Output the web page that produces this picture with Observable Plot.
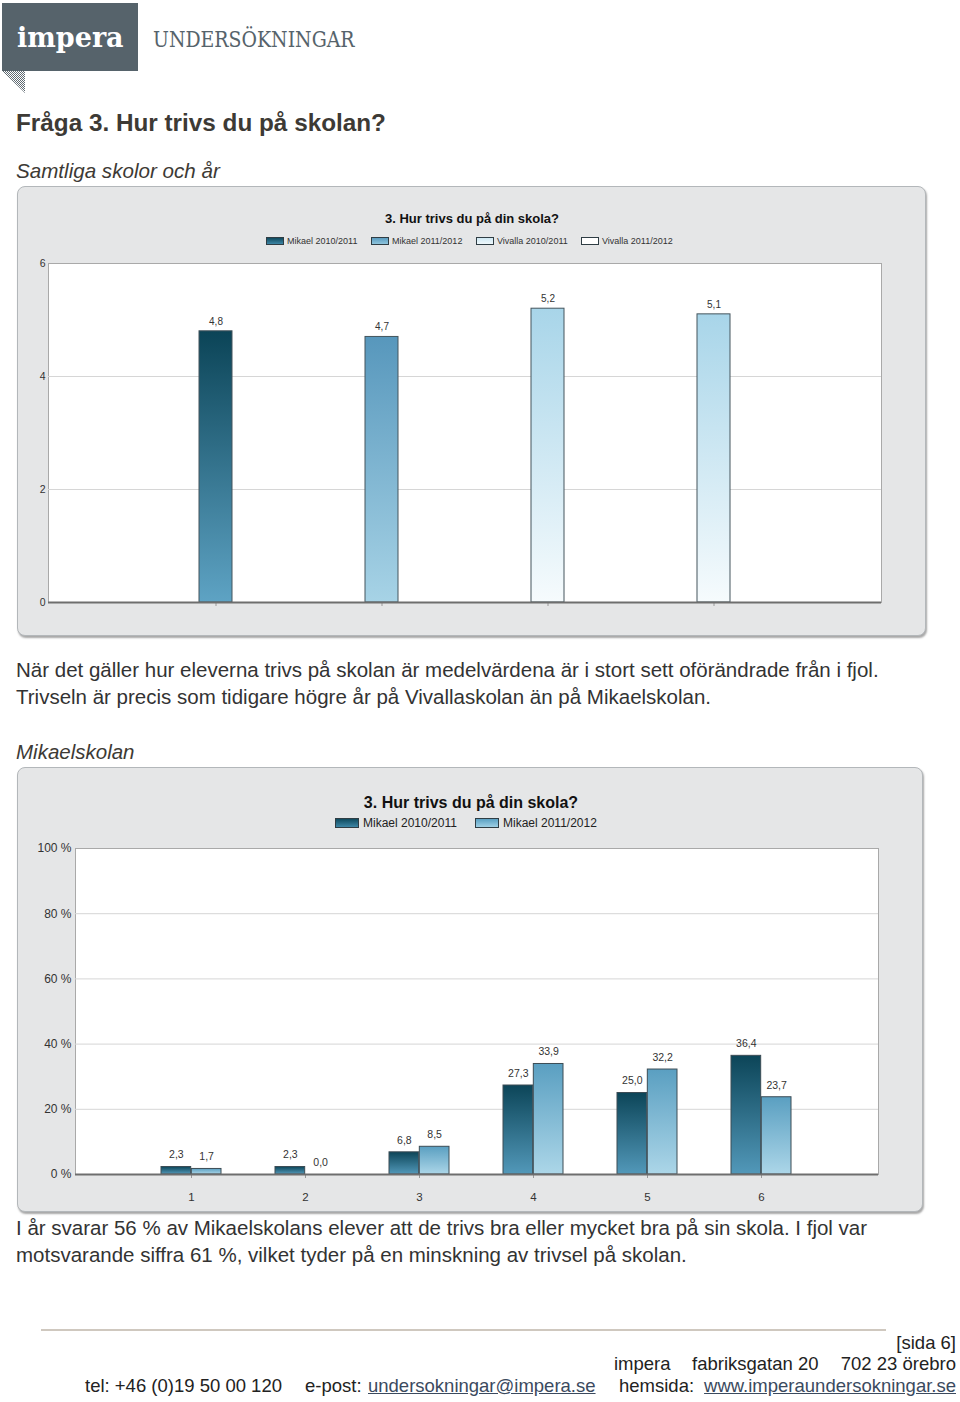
<!DOCTYPE html>
<html><head><meta charset="utf-8">
<script src="https://cdn.jsdelivr.net/npm/d3@7"></script>
<script src="https://cdn.jsdelivr.net/npm/@observablehq/plot@0.6"></script>
<style>
html,body{margin:0;padding:0;background:#fff;}
#page{position:relative;width:960px;height:1402px;overflow:hidden;font-family:"Liberation Sans",Arial,sans-serif;color:#333;}
.t{position:absolute;white-space:pre;line-height:normal;}
.panel{position:absolute;box-sizing:border-box;background:#e5e6e7;border:1px solid #b3b7ba;border-radius:8px;box-shadow:1px 2px 2px rgba(0,0,0,0.35);}
.sw{position:absolute;box-sizing:border-box;border:1px solid #2f3d44;}
.abs{position:absolute;}
</style></head>
<body><div id="page"></div>
<script>
// ---------- data ----------
const series1 = ["Mikael 2010/2011", "Mikael 2011/2012", "Vivalla 2010/2011", "Vivalla 2011/2012"];
const means1 = [4.8, 4.7, 5.2, 5.1];
const yTicks1 = [0, 2, 4, 6];

const answers2 = ["1", "2", "3", "4", "5", "6"];
const series2 = ["Mikael 2010/2011", "Mikael 2011/2012"];
const mikael1011 = [2.3, 2.3, 6.8, 27.3, 25.0, 36.4];
const mikael1112 = [1.7, 0.0, 8.5, 33.9, 32.2, 23.7];
const yTicks2 = [0, 20, 40, 60, 80, 100];

// ---------- styles ----------
const grad1 = [["#0b4457", "#5ea3c4"], ["#5797bc", "#a7d3e6"], ["#a8d5e9", "#f6fbfd"], ["#a8d5e9", "#f6fbfd"]];
const legend1Css = ["linear-gradient(#0f4a5e,#3d86a6)", "linear-gradient(#5a9cc0,#8fc4dc)", "linear-gradient(#cfe8f3,#eef7fb)", "#ffffff"];
const grad2 = [["#0c4558", "#5298b9"], ["#5a9fc1", "#acd6e8"]];
const legend2Css = ["linear-gradient(#0f4a5e,#3d86a6)", "linear-gradient(#5aa0c2,#9fd0e5)"];

const fmt = v => v.toFixed(1).replace(".", ",");
const page = document.getElementById("page");

function txt(s, x, base, fs, o = {}) {
  const d = document.createElement("div");
  d.className = "t";
  d.textContent = s;
  d.style.fontSize = fs + "px";
  const asc = o.asc ?? 0.921;
  d.style.top = (base - asc * fs) + "px";
  if (o.align === "right") d.style.right = (960 - x) + "px";
  else if (o.align === "center") { d.style.left = (x - 300) + "px"; d.style.width = "600px"; d.style.textAlign = "center"; }
  else d.style.left = x + "px";
  Object.assign(d.style, o.style || {});
  page.appendChild(d);
  return d;
}
function box(x, y, w, h, cls, css = {}) {
  const d = document.createElement("div");
  d.className = cls;
  Object.assign(d.style, {left: x + "px", top: y + "px", width: w + "px", height: h + "px"}, css);
  page.appendChild(d);
  return d;
}
function gradientDefs(prefix, list) {
  return () => {
    const ns = "http://www.w3.org/2000/svg";
    const defs = document.createElementNS(ns, "defs");
    list.forEach(([top, bottom], i) => {
      const lg = document.createElementNS(ns, "linearGradient");
      lg.setAttribute("id", prefix + i);
      lg.setAttribute("x1", "0"); lg.setAttribute("y1", "0");
      lg.setAttribute("x2", "0"); lg.setAttribute("y2", "1");
      [[0, top], [1, bottom]].forEach(([off, c]) => {
        const s = document.createElementNS(ns, "stop");
        s.setAttribute("offset", off); s.setAttribute("stop-color", c);
        lg.appendChild(s);
      });
      defs.appendChild(lg);
    });
    return defs;
  };
}

// ---------- header / logo ----------
box(2, 3, 136, 68, "abs", {background: "#56636b"});
box(2, 71, 23, 22, "abs", {clipPath: "polygon(0 0,100% 0,100% 100%)", background: "repeating-conic-gradient(#5f6a71 0 25%, #ffffff 0 50%) 0 0/2px 2px"});
txt("impera", 17, 47, 27, {asc: 0.928, style: {fontFamily: "'DejaVu Serif',serif", fontWeight: "bold", color: "#ffffff"}});
const und = txt("UNDERSÖKNINGAR", 153, 47, 23, {asc: 0.928, style: {fontFamily: "'DejaVu Serif',serif", color: "#56636b", transformOrigin: "0 0"}});
und.style.transform = `scaleX(${202 / und.offsetWidth})`;

txt("Fråga 3. Hur trivs du på skolan?", 16, 131.5, 24.3, {style: {fontWeight: "bold", color: "#3d3a35"}});
txt("Samtliga skolor och år", 16, 177.5, 20.6, {style: {fontStyle: "italic", color: "#3d3a35"}});

// ---------- chart 1 ----------
box(17, 186, 909, 450, "panel");
txt("3. Hur trivs du på din skola?", 472, 222.6, 13, {align: "center", style: {fontWeight: "bold", color: "#111"}});
const leg1x = [266, 371, 476, 581];
series1.forEach((s, i) => {
  box(leg1x[i], 237, 18, 8, "sw", {background: legend1Css[i]});
  txt(s, leg1x[i] + 21, 244.5, 9, {style: {color: "#333"}});
});

const data1 = series1.map((s, i) => ({series: s, value: means1[i], fill: `url(#g1_${i})`}));
const plot1 = Plot.plot({
  width: 909, height: 386,
  marginLeft: 31, marginRight: 45, marginTop: 13, marginBottom: 34,
  style: {background: "transparent", fontFamily: "'Liberation Sans',Arial,sans-serif", fontSize: "10px", color: "#333", overflow: "visible"},
  x: {domain: series1, paddingInner: 0.8, paddingOuter: 0.9, axis: null, label: null},
  y: {domain: [0, 6], axis: null, label: null},
  color: {type: "identity"},
  marks: [
    gradientDefs("g1_", grad1),
    Plot.frame({fill: "#ffffff", stroke: "#a9a9a9"}),
    Plot.gridY([2, 4], {stroke: "#d6d6d6", strokeOpacity: 1}),
    Plot.axisY(yTicks1, {tickSize: 0, tickPadding: 3, fontSize: 10.5, tickFormat: d => String(d), label: null}),
    Plot.axisX({tickSize: 4, tickFormat: () => "", stroke: "#9a9a9a", label: null}),
    Plot.barY(data1, {x: "series", y: "value", fill: "fill", stroke: "#44545c", strokeWidth: 1}),
    Plot.ruleY([0], {stroke: "#6e6e6e", strokeWidth: 2}),
    Plot.text(data1, {x: "series", y: "value", text: d => fmt(d.value), dy: -10, fontSize: 10, fill: "#333"})
  ]
});
Object.assign(plot1.style, {position: "absolute", left: "17px", top: "250px"});
page.appendChild(plot1);

txt("När det gäller hur eleverna trivs på skolan är medelvärdena är i stort sett oförändrade från i fjol.", 16, 677, 20.5);
txt("Trivseln är precis som tidigare högre år på Vivallaskolan än på Mikaelskolan.", 16, 704, 20.5);
txt("Mikaelskolan", 16, 759, 20.5, {style: {fontStyle: "italic", color: "#3d3a35"}});

// ---------- chart 2 ----------
box(17, 767, 906, 445, "panel");
txt("3. Hur trivs du på din skola?", 471, 808.7, 16, {align: "center", style: {fontWeight: "bold", color: "#111"}});
const leg2x = [335, 475];
series2.forEach((s, i) => {
  box(leg2x[i], 818, 24, 10, "sw", {background: legend2Css[i]});
  txt(s, leg2x[i] + 28, 827.3, 12, {style: {color: "#222"}});
});

const W2 = 906, ML2 = 58, MR2 = 45, PI2 = 0.47, PO2 = 0.745;
const step2 = (W2 - ML2 - MR2) / (answers2.length - PI2 + 2 * PO2);
const bw2 = step2 * (1 - PI2);
const data2 = answers2.map((a, i) => ({answer: a, v0: mikael1011[i], v1: mikael1112[i]}));
const plot2 = Plot.plot({
  width: W2, height: 377,
  marginLeft: ML2, marginRight: MR2, marginTop: 13, marginBottom: 38,
  style: {background: "transparent", fontFamily: "'Liberation Sans',Arial,sans-serif", fontSize: "12px", color: "#333", overflow: "visible"},
  x: {domain: answers2, paddingInner: PI2, paddingOuter: PO2, axis: null, label: null},
  y: {domain: [0, 100], axis: null, label: null},
  marks: [
    gradientDefs("g2_", grad2),
    Plot.frame({fill: "#ffffff", stroke: "#a9a9a9"}),
    Plot.gridY([20, 40, 60, 80], {stroke: "#d6d6d6", strokeOpacity: 1}),
    Plot.axisY(yTicks2, {tickSize: 0, tickPadding: 4, fontSize: 12, tickFormat: d => d + " %", label: null}),
    Plot.axisX({tickSize: 4, tickPadding: 14, fontSize: 11.5, stroke: "#9a9a9a", fill: "#333", label: null}),
    Plot.barY(data2, {x: "answer", y: "v0", fill: "url(#g2_0)", stroke: "#3c4c55", strokeWidth: 1, insetRight: bw2 / 2}),
    Plot.barY(data2, {x: "answer", y: "v1", fill: "url(#g2_1)", stroke: "#3c4c55", strokeWidth: 1, insetLeft: bw2 / 2}),
    Plot.ruleY([0], {stroke: "#6e6e6e", strokeWidth: 2}),
    Plot.text(data2, {x: "answer", y: "v0", text: d => fmt(d.v0), dx: -bw2 / 4, dy: -12, fontSize: 10.5, fill: "#333"}),
    Plot.text(data2, {x: "answer", y: "v1", text: d => fmt(d.v1), dx: bw2 / 4, dy: -12, fontSize: 10.5, fill: "#333"})
  ]
});
Object.assign(plot2.style, {position: "absolute", left: "17px", top: "835px"});
page.appendChild(plot2);

txt("I år svarar 56 % av Mikaelskolans elever att de trivs bra eller mycket bra på sin skola. I fjol var", 16, 1235, 20.5);
txt("motsvarande siffra 61 %, vilket tyder på en minskning av trivsel på skolan.", 16, 1262, 20.5);

// ---------- footer ----------
box(41, 1329, 845, 2, "abs", {background: "#cfc8bf"});
const fcss = {color: "#222"};
const lcss = {color: "#3b4a5e", textDecoration: "underline"};
txt("[sida 6]", 956, 1349, 18.5, {align: "right", style: fcss});
txt("impera", 614, 1370, 18.5, {style: fcss});
txt("fabriksgatan 20", 692, 1370, 18.5, {style: fcss});
txt("702 23 örebro", 956, 1370, 18.5, {align: "right", style: fcss});
txt("tel: +46 (0)19 50 00 120", 85, 1392, 18.5, {style: fcss});
txt("e-post:", 305, 1392, 18.5, {style: fcss});
txt("undersokningar@impera.se", 368, 1392, 18.5, {style: lcss});
txt("hemsida:", 619, 1392, 18.5, {style: fcss});
txt("www.imperaundersokningar.se", 956, 1392, 18.5, {align: "right", style: lcss});
</script>
</body></html>
